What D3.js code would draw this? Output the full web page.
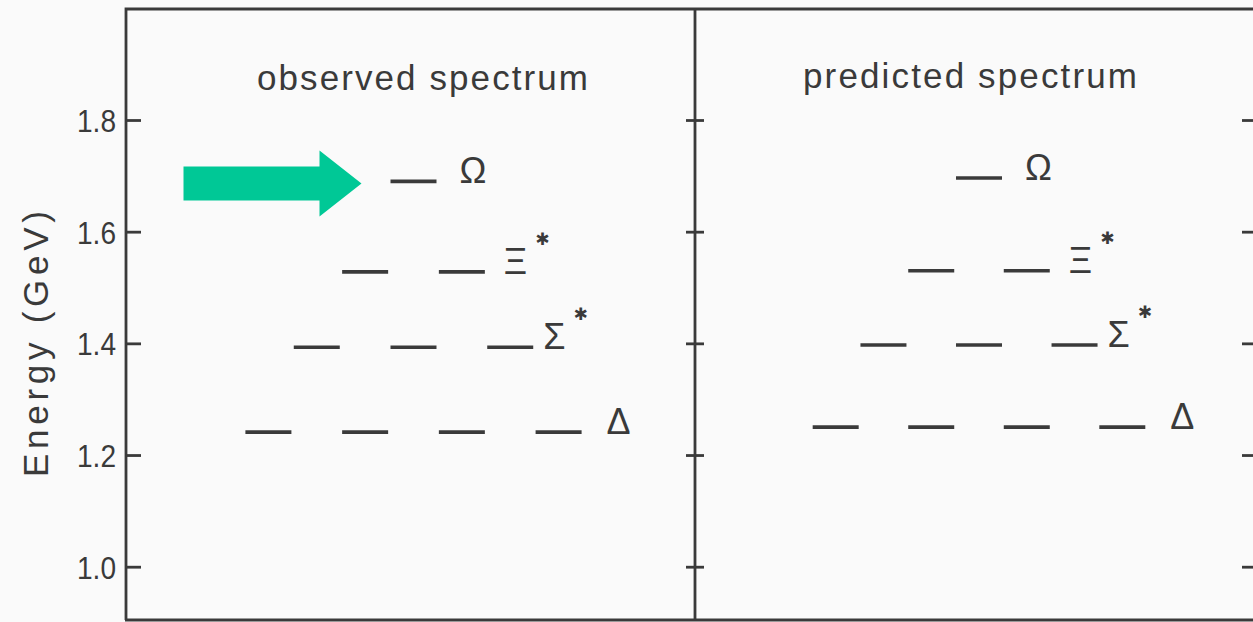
<!DOCTYPE html>
<html>
<head>
<meta charset="utf-8">
<script src="https://cdn.jsdelivr.net/npm/d3@7/dist/d3.min.js"></script>
<style>
  html, body { margin: 0; padding: 0; background: #fafafa; }
  svg { display: block; }
</style>
</head>
<body>
<svg id="chart" width="1253" height="622"></svg>
<script>
// Baryon decuplet energy levels (GeV): observed vs predicted
const particles = ["Δ", "Σ", "Ξ", "Ω"];
const starred = [false, true, true, false];
const multiplicity = [4, 3, 2, 1];
const observedEnergy = [1.241, 1.393, 1.528, 1.690];
const predictedEnergy = [1.250, 1.397, 1.530, 1.696];
const panelTitles = ["observed spectrum", "predicted spectrum"];
const yTicks = [1.0, 1.2, 1.4, 1.6, 1.8];
const yTickLabels = ["1.0", "1.2", "1.4", "1.6", "1.8"];
const axisTitle = "Energy (GeV)";

const svg = d3.select("#chart");
const ink = "#3a3a3a";

// frame geometry
const frame = { left: 126, mid: 695, right: 1257, top: 9, bottom: 620 };
const y = d3.scaleLinear().domain([1.0, 1.8]).range([566.7, 120]);

svg.append("rect").attr("width", 1253).attr("height", 622).attr("fill", "#fafafa");

// panel layout
const panels = [
  { x0: frame.left, x1: frame.mid, title: panelTitles[0], titleDx: 12, titleY: 90, energy: observedEnergy },
  { x0: frame.mid, x1: frame.right, title: panelTitles[1], titleDx: -6, titleY: 88, energy: predictedEnergy }
];

// label gap after the last level segment, per particle
const labelGap = [25, 10, 19, 23];
const segLen = 46;

const g = svg.append("g");

// frame lines
const frameG = g.append("g").attr("stroke", ink).attr("stroke-width", 2.8).attr("fill", "none");
frameG.append("path")
  .attr("d", `M${frame.left},${frame.bottom} V${frame.top} H${frame.right + 10} M${frame.left - 1},${frame.bottom} H${frame.right + 10}`);
frameG.append("line").attr("x1", frame.mid).attr("x2", frame.mid).attr("y1", frame.top).attr("y2", frame.bottom);
frameG.append("line").attr("x1", frame.right).attr("x2", frame.right).attr("y1", frame.top).attr("y2", frame.bottom);

// left axis: inward ticks with labels
const leftAxis = d3.axisRight(y).tickValues(yTicks).tickSize(15).tickFormat("");
const la = g.append("g").attr("transform", `translate(${frame.left},0)`).call(leftAxis);
la.select(".domain").remove();
la.selectAll(".tick line").attr("stroke", ink).attr("stroke-width", 2.8);

g.append("g").selectAll("text").data(yTicks).join("text")
  .attr("x", 116).attr("y", d => y(d))
  .attr("dy", "0.37em")
  .attr("text-anchor", "end")
  .attr("font-family", "Liberation Sans, Arial, sans-serif")
  .attr("font-size", 32)
  .attr("textLength", 39)
  .attr("lengthAdjust", "spacingAndGlyphs")
  .attr("fill", ink)
  .text((d, i) => yTickLabels[i]);

// middle divider: ticks on both sides
const midAxis = d3.axisRight(y).tickValues(yTicks).tickSize(18).tickFormat("");
const ma = g.append("g").attr("transform", `translate(${frame.mid - 9},0)`).call(midAxis);
ma.select(".domain").remove();
ma.selectAll(".tick line").attr("stroke", ink).attr("stroke-width", 2.8);

// right axis: inward ticks
const rightAxis = d3.axisLeft(y).tickValues(yTicks).tickSize(15).tickFormat("");
const ra = g.append("g").attr("transform", `translate(${frame.right},0)`).call(rightAxis);
ra.select(".domain").remove();
ra.selectAll(".tick line").attr("stroke", ink).attr("stroke-width", 2.8);

// axis title
g.append("text")
  .attr("transform", `translate(48,344) rotate(-90)`)
  .attr("text-anchor", "middle")
  .attr("font-family", "Liberation Sans, Arial, sans-serif")
  .attr("font-size", 35)
  .attr("textLength", 266)
  .attr("lengthAdjust", "spacing")
  .attr("fill", ink)
  .text(axisTitle);

// each panel: title, level segments, particle labels
panels.forEach((p, pi) => {
  const width = p.x1 - p.x0;
  const center = (p.x0 + p.x1) / 2 + 3;
  const step = width * 0.085;
  const slot = d3.scaleLinear().domain([-3, 3]).range([center - 3 * step, center + 3 * step]);

  g.append("text")
    .attr("x", (p.x0 + p.x1) / 2 + p.titleDx)
    .attr("y", p.titleY)
    .attr("text-anchor", "middle")
    .attr("font-family", "Liberation Sans, Arial, sans-serif")
    .attr("font-size", 35)
    .attr("textLength", pi === 0 ? 331 : 334)
    .attr("lengthAdjust", "spacing")
    .attr("fill", ink)
    .text(p.title);

  const levels = [];
  particles.forEach((name, k) => {
    const n = multiplicity[k];
    for (let j = 0; j < n; j++) {
      levels.push({ k, s: -(n - 1) + 2 * j, e: p.energy[k] });
    }
  });

  g.append("g").selectAll("line").data(levels).join("line")
    .attr("x1", d => slot(d.s) - segLen / 2)
    .attr("x2", d => slot(d.s) + segLen / 2)
    .attr("y1", d => y(d.e))
    .attr("y2", d => y(d.e))
    .attr("stroke", ink)
    .attr("stroke-width", 3.6);

  particles.forEach((name, k) => {
    const n = multiplicity[k];
    const endX = slot(n - 1) + segLen / 2;
    const t = g.append("text")
      .attr("x", endX + labelGap[k])
      .attr("y", y(p.energy[k]) + 2)
      .attr("font-family", "Liberation Sans, Arial, sans-serif")
      .attr("font-size", 36)
      .attr("fill", ink)
      .text(name);
    if (starred[k]) {
      t.append("tspan")
        .attr("dx", 8)
        .attr("dy", -29)
        .attr("font-family", "DejaVu Sans, sans-serif")
        .attr("font-size", 17)
        .attr("font-weight", "bold")
        .attr("fill", "#3a3a3a")
        .text("✱");
    }
  });

  // arrow pointing at the observed Ω level
  if (pi === 0) {
    const k = particles.indexOf("Ω");
    const tipX = slot(0) - segLen / 2 - 29;
    const tipY = y(p.energy[k]) + 2;
    const headLen = 42, headHalf = 33, bodyHalf = 17, bodyLen = 136;
    const pts = [
      [tipX - headLen - bodyLen, tipY - bodyHalf],
      [tipX - headLen, tipY - bodyHalf],
      [tipX - headLen, tipY - headHalf],
      [tipX, tipY],
      [tipX - headLen, tipY + headHalf],
      [tipX - headLen, tipY + bodyHalf],
      [tipX - headLen - bodyLen, tipY + bodyHalf]
    ];
    g.append("polygon")
      .attr("points", pts.map(q => q.join(",")).join(" "))
      .attr("fill", "#00c896");
  }
});
</script>
</body>
</html>
